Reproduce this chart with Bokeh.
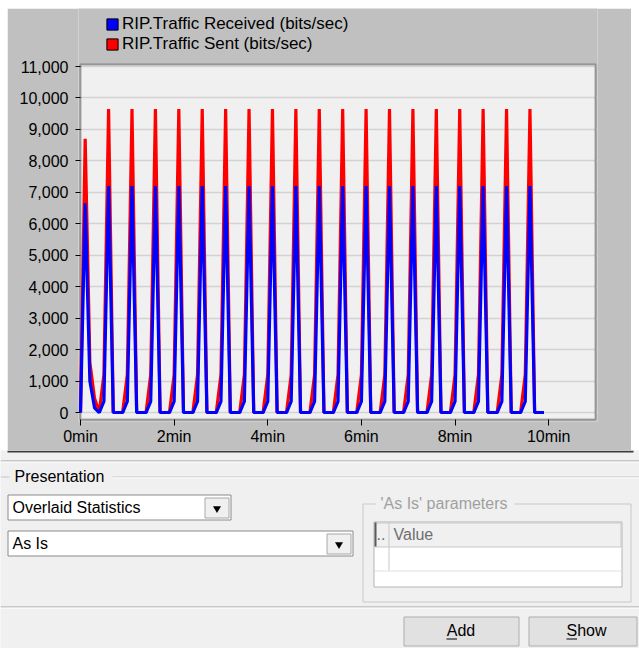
from bokeh.plotting import figure
from bokeh.models import (ColumnDataSource, Range1d, FixedTicker, NumeralTickFormatter,
                          CustomJSTickFormatter, Legend, LegendItem, BoxAnnotation)
from bokeh.layouts import column
from bokeh.embed import file_html
from bokeh.resources import INLINE
from bokeh.core.properties import value

# ---------------- data ----------------
time_min = [
    0.0, 0.1, 0.2, 0.3, 0.4, 0.5, 0.6, 0.7, 0.8, 0.9,
    1.0, 1.1, 1.2, 1.3, 1.4, 1.5, 1.6, 1.7, 1.8, 1.9,
    2.0, 2.1, 2.2, 2.3, 2.4, 2.5, 2.6, 2.7, 2.8, 2.9,
    3.0, 3.1, 3.2, 3.3, 3.4, 3.5, 3.6, 3.7, 3.8, 3.9,
    4.0, 4.1, 4.2, 4.3, 4.4, 4.5, 4.6, 4.7, 4.8, 4.9,
    5.0, 5.1, 5.2, 5.3, 5.4, 5.5, 5.6, 5.7, 5.8, 5.9,
    6.0, 6.1, 6.2, 6.3, 6.4, 6.5, 6.6, 6.7, 6.8, 6.9,
    7.0, 7.1, 7.2, 7.3, 7.4, 7.5, 7.6, 7.7, 7.8, 7.9,
    8.0, 8.1, 8.2, 8.3, 8.4, 8.5, 8.6, 8.7, 8.8, 8.9,
    9.0, 9.1, 9.2, 9.3, 9.4, 9.5, 9.6, 9.7, 9.8, 9.9,
]

traffic_received = [
    0, 6650, 1000, 150, 0, 350, 7200, 0, 0, 0,
    350, 7200, 0, 0, 0, 350, 7200, 0, 0, 0,
    350, 7200, 0, 0, 0, 350, 7200, 0, 0, 0,
    350, 7200, 0, 0, 0, 350, 7200, 0, 0, 0,
    350, 7200, 0, 0, 0, 350, 7200, 0, 0, 0,
    350, 7200, 0, 0, 0, 350, 7200, 0, 0, 0,
    350, 7200, 0, 0, 0, 350, 7200, 0, 0, 0,
    350, 7200, 0, 0, 0, 350, 7200, 0, 0, 0,
    350, 7200, 0, 0, 0, 350, 7200, 0, 0, 0,
    350, 7200, 0, 0, 0, 350, 7200, 0, 0, 0,
]

traffic_sent = [
    0, 8700, 1600, 450, 0, 1200, 9650, 0, 0, 0,
    1200, 9650, 0, 0, 0, 1200, 9650, 0, 0, 0,
    1200, 9650, 0, 0, 0, 1200, 9650, 0, 0, 0,
    1200, 9650, 0, 0, 0, 1200, 9650, 0, 0, 0,
    1200, 9650, 0, 0, 0, 1200, 9650, 0, 0, 0,
    1200, 9650, 0, 0, 0, 1200, 9650, 0, 0, 0,
    1200, 9650, 0, 0, 0, 1200, 9650, 0, 0, 0,
    1200, 9650, 0, 0, 0, 1200, 9650, 0, 0, 0,
    1200, 9650, 0, 0, 0, 1200, 9650, 0, 0, 0,
    1200, 9650, 0, 0, 0, 1200, 9650, 0, 0, 0,
]

series_labels = ["RIP.Traffic Received (bits/sec)", "RIP.Traffic Sent (bits/sec)"]
series_colors = ["#0000ff", "#ff0000"]
y_ticks = [0, 1000, 2000, 3000, 4000, 5000, 6000, 7000, 8000, 9000, 10000, 11000]
x_ticks = [0, 2, 4, 6, 8, 10]
plot_area = dict(x0=0, x1=11, y0=-223, y1=11064)   # extent of the white plotting box

FONT = "Liberation Sans"
NAN = float("nan")

# ---------------- chart panel ----------------
src = ColumnDataSource(dict(t=time_min, recv=traffic_received, sent=traffic_sent))

p = figure(width=624, height=442, title=None,
           x_range=Range1d(-0.0427, 11.0427), y_range=Range1d(-286, 12844),
           output_backend="svg", toolbar_location=None,
           min_border_left=71, min_border_right=34, min_border_top=0, min_border_bottom=29,
           background_fill_color="#c0c0c0", border_fill_color="#c0c0c0",
           outline_line_color=None)
p.margin = (8, 8, 0, 7)
p.frame_align = False

# plotting box (background + border)
p.add_layout(BoxAnnotation(left=plot_area["x0"], right=plot_area["x1"],
                           bottom=plot_area["y0"], top=plot_area["y1"],
                           fill_color="#f0f0f0", fill_alpha=1, line_color=None, level="image"))
p.add_layout(BoxAnnotation(left=plot_area["x0"], right=plot_area["x1"],
                           bottom=plot_area["y0"], top=plot_area["y1"],
                           fill_alpha=0, line_color="black", line_width=2, level="underlay"))

p.line("t", "sent", source=src, line_color=series_colors[1], line_width=3.2)
p.line("t", "recv", source=src, line_color=series_colors[0], line_width=3.2)

# legend swatches (square keys, no visible data of their own)
key_src = ColumnDataSource(dict(l=[NAN], r=[NAN], b=[NAN], t=[NAN]))
q_recv = p.quad(left="l", right="r", bottom="b", top="t", source=key_src,
                fill_color=series_colors[0], line_color="black", line_width=1)
q_sent = p.quad(left="l", right="r", bottom="b", top="t", source=key_src,
                fill_color=series_colors[1], line_color="black", line_width=1)

legend = Legend(items=[LegendItem(label=series_labels[0], renderers=[q_recv], index=0),
                       LegendItem(label=series_labels[1], renderers=[q_sent], index=0)],
                location=(27, 367), orientation="vertical",
                background_fill_alpha=0, border_line_color=None,
                glyph_width=14, glyph_height=14, label_height=20, spacing=-1,
                padding=4, margin=0, label_standoff=3,
                label_text_font=FONT, label_text_font_size="17px", label_text_color="black")
p.add_layout(legend)

p.xgrid.grid_line_color = None
p.ygrid.ticker = FixedTicker(ticks=y_ticks)
p.ygrid.grid_line_color = "#d2d2d2"
p.ygrid.grid_line_width = 1.5

p.yaxis.ticker = FixedTicker(ticks=y_ticks)
p.yaxis.formatter = NumeralTickFormatter(format="0,0")
p.xaxis.ticker = FixedTicker(ticks=x_ticks)
p.xaxis.formatter = CustomJSTickFormatter(code="return tick + 'min'")

for ax in (p.xaxis[0], p.yaxis[0]):
    ax.major_label_text_font = FONT
    ax.major_label_text_font_size = "16px"
    ax.major_label_text_color = "black"
    ax.major_tick_line_color = "black"
    ax.major_tick_line_width = 1
    ax.minor_tick_line_color = None
    ax.axis_line_color = None
p.yaxis.major_tick_in = 2
p.yaxis.major_tick_out = 3
p.yaxis.major_label_standoff = 7
p.xaxis.major_tick_in = 2
p.xaxis.major_tick_out = 4
p.xaxis.major_label_standoff = 2

# ---------------- dialog controls below the chart (decoration) ----------------
ui = figure(width=639, height=198, title=None, x_range=Range1d(0, 639), y_range=Range1d(648, 450),
            output_backend="svg", toolbar_location=None, min_border=0,
            min_border_left=0, min_border_right=0, min_border_top=0, min_border_bottom=0,
            x_axis_type=None, y_axis_type=None,
            background_fill_color="#f0f0f0", border_fill_color="#f0f0f0",
            outline_line_color=None)
ui.frame_align = False
ui.grid.visible = False

# bottom border of chart panel and separators
ui.quad(left=[7], right=[633], top=[450], bottom=[452], fill_color="#3a3a3a", line_color=None)
ui.segment(x0=[0, 0, 0, 0], y0=[460.5, 461.5, 606.5, 607.5],
           x1=[639, 639, 639, 639], y1=[460.5, 461.5, 606.5, 607.5],
           line_color=["#a0a0a0", "#ffffff", "#a0a0a0", "#ffffff"], line_width=1)

# "Presentation" group line
ui.segment(x0=[112, 112, 0], y0=[476.5, 477.5, 476.5], x1=[639, 639, 9], y1=[476.5, 477.5, 476.5],
           line_color=["#c8c8c8", "#ffffff", "#c8c8c8"], line_width=1)

# combo boxes
ui.quad(left=[7.5, 7.5], right=[230.5, 352.5], top=[494.5, 530.5], bottom=[519.5, 555.5],
        fill_color="white", line_color="#8a8a8a", line_width=1)
ui.quad(left=[204.5, 326.5], right=[228.5, 350.5], top=[497.5, 533.5], bottom=[517.5, 553.5],
        fill_color="#f0f0f0", line_color="#a8a8a8", line_width=1)
ui.scatter(x=[216.5, 338.5], y=[508, 544], marker="inverted_triangle", size=8,
           fill_color="black", line_color=None)

# 'As Is' parameters group
ui.quad(left=[362.5], right=[630.5], top=[503.5], bottom=[601.5], fill_color=None,
        line_color="#c8c8c8", line_width=1)
ui.quad(left=[375], right=[514], top=[495], bottom=[511], fill_color="#f0f0f0", line_color=None)

# table
ui.quad(left=[373.5], right=[621.5], top=[521.5], bottom=[586.5], fill_color="white",
        line_color="#b4b4b4", line_width=1)
ui.quad(left=[374.5], right=[620.5], top=[522.5], bottom=[546.5], fill_color="#f0f0f0",
        line_color="#c8c8c8", line_width=1)
ui.segment(x0=[375, 388.5, 374.5], y0=[522, 522, 570.5], x1=[375, 388.5, 620.5], y1=[546, 570, 570.5],
           line_color=["#5a5a5a", "#c8c8c8", "#e0e0e0"], line_width=[2, 1, 1])

# buttons
ui.quad(left=[403.5, 528.5], right=[518.5, 636.5], top=[616.5, 616.5], bottom=[645.5, 645.5],
        fill_color="#e1e1e1", line_color="#adadad", line_width=1)
ui.segment(x0=[446, 566], y0=[638.5, 638.5], x1=[456.5, 576.5], y1=[638.5, 638.5],
           line_color="black", line_width=1)

# texts
ui.text(x=[14, 12, 12], y=[476, 507, 543], text=["Presentation", "Overlaid Statistics", "As Is"],
        text_font=value(FONT), text_font_size="16px", text_baseline="middle", text_align="left",
        text_color="black")
ui.text(x=[380], y=[503], text=["'As Is' parameters"], text_font=value(FONT), text_font_size="16px",
        text_baseline="middle", text_align="left", text_color="#a0a0a0")
ui.text(x=[376, 393], y=[533, 534], text=["..", "Value"], text_font=value(FONT),
        text_font_size="16px", text_baseline="middle", text_align="left", text_color="#6e6e6e")
ui.text(x=[460.5, 586], y=[630, 630], text=["Add", "Show"], text_font=value(FONT),
        text_font_size="16px", text_baseline="middle", text_align="center", text_color="black")

layout = column(p, ui, spacing=0)
open("out.html", "w").write(file_html(layout, INLINE))
